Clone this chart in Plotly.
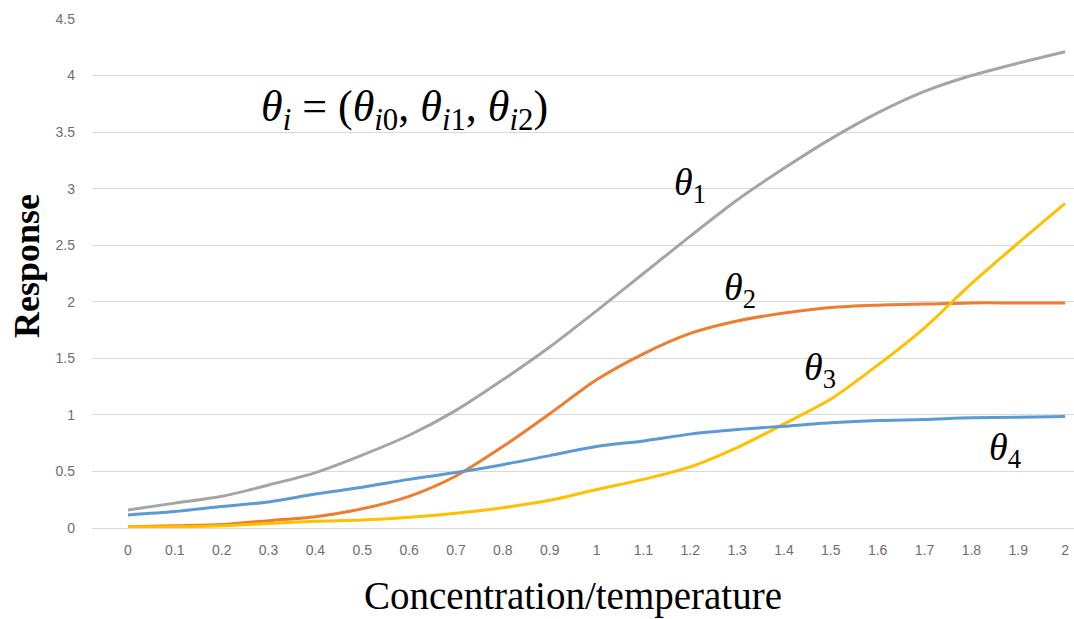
import plotly.graph_objects as go

x_vals = [0, 0.1, 0.2, 0.3, 0.4, 0.5, 0.6, 0.7, 0.8, 0.9, 1.0,
          1.1, 1.2, 1.3, 1.4, 1.5, 1.6, 1.7, 1.8, 1.9, 2.0]
x_labels = ["0", "0.1", "0.2", "0.3", "0.4", "0.5", "0.6", "0.7", "0.8", "0.9", "1",
            "1.1", "1.2", "1.3", "1.4", "1.5", "1.6", "1.7", "1.8", "1.9", "2"]

theta1 = [0.16, 0.22, 0.28, 0.38, 0.49, 0.645, 0.82, 1.04, 1.31, 1.60, 1.92,
          2.25, 2.58, 2.90, 3.18, 3.44, 3.67, 3.86, 4.00, 4.11, 4.21]
theta2 = [0.01, 0.02, 0.03, 0.065, 0.10, 0.17, 0.28, 0.46, 0.72, 1.01, 1.31,
          1.54, 1.72, 1.83, 1.90, 1.95, 1.97, 1.98, 1.99, 1.99, 1.99]
theta3 = [0.01, 0.01, 0.02, 0.04, 0.06, 0.07, 0.095, 0.13, 0.18, 0.245, 0.34,
          0.43, 0.54, 0.71, 0.92, 1.14, 1.44, 1.77, 2.16, 2.52, 2.87]
theta4 = [0.115, 0.145, 0.19, 0.23, 0.30, 0.36, 0.43, 0.49, 0.56, 0.64, 0.72,
          0.77, 0.83, 0.87, 0.90, 0.93, 0.95, 0.96, 0.975, 0.98, 0.986]

y_ticks = [0, 0.5, 1, 1.5, 2, 2.5, 3, 3.5, 4, 4.5]
y_labels = ["0", "0.5", "1", "1.5", "2", "2.5", "3", "3.5", "4", "4.5"]

series = [
    ("θ1", theta1, "#A5A5A5"),
    ("θ2", theta2, "#ED7D31"),
    ("θ3", theta3, "#FFC000"),
    ("θ4", theta4, "#5B9BD5"),
]

fig = go.Figure()
for name, vals, col in series:
    fig.add_trace(go.Scatter(x=x_vals, y=vals, mode="lines", name=name,
                             line=dict(color=col, width=3, shape="spline", smoothing=0.8)))

serif = "Liberation Serif"
tickfont = dict(family="Liberation Sans", size=14, color="#6E6E6E")

fig.update_layout(
    width=1074, height=619,
    margin=dict(l=92, r=0, t=19, b=91),
    paper_bgcolor="white", plot_bgcolor="white",
    showlegend=False,
    xaxis=dict(range=[-0.0768, 2.019], tickmode="array", tickvals=x_vals, ticktext=x_labels,
               showgrid=False, zeroline=False, showline=False, ticks="",
               tickfont=tickfont, ticklabelstandoff=12),
    yaxis=dict(range=[0, 4.5], tickmode="array", tickvals=y_ticks, ticktext=y_labels,
               showgrid=True, gridcolor="#D9D9D9", gridwidth=1,
               zeroline=True, zerolinecolor="#D9D9D9", zerolinewidth=1,
               showline=False, ticks="", tickfont=tickfont, ticklabelstandoff=16),
)

ann = []
ann.append(dict(text="<b>Response</b>", xref="paper", yref="paper", x=-0.066, y=0.515,
                textangle=-90, showarrow=False,
                font=dict(family=serif, size=36, color="black"),
                xanchor="center", yanchor="middle"))
ann.append(dict(text="Concentration/temperature", xref="paper", yref="paper",
                x=(573 - 92) / 982, y=-0.134, showarrow=False,
                font=dict(family=serif, size=39, color="black"),
                xanchor="center", yanchor="middle"))
ann.append(dict(text="<i>θ</i><sub><i>i</i></sub> = (<i>θ</i><sub><i>i</i>0</sub>, <i>θ</i><sub><i>i</i>1</sub>, <i>θ</i><sub><i>i</i>2</sub>)",
                xref="x", yref="y", x=0.59, y=3.70, showarrow=False,
                font=dict(family=serif, size=44, color="black"),
                xanchor="center", yanchor="middle"))
labels = [("1", 1.20, 3.03), ("2", 1.306, 2.10), ("3", 1.477, 1.40), ("4", 1.872, 0.69)]
for sub, lx, ly in labels:
    ann.append(dict(text="<i>θ</i><sub>" + sub + "</sub>", xref="x", yref="y", x=lx, y=ly,
                    showarrow=False, font=dict(family=serif, size=38, color="black"),
                    xanchor="center", yanchor="middle"))
fig.update_layout(annotations=ann)

fig.write_html("out.html", config={"displayModeBar": False},
               post_script="document.body.style.margin='0';document.body.style.overflow='hidden';")
